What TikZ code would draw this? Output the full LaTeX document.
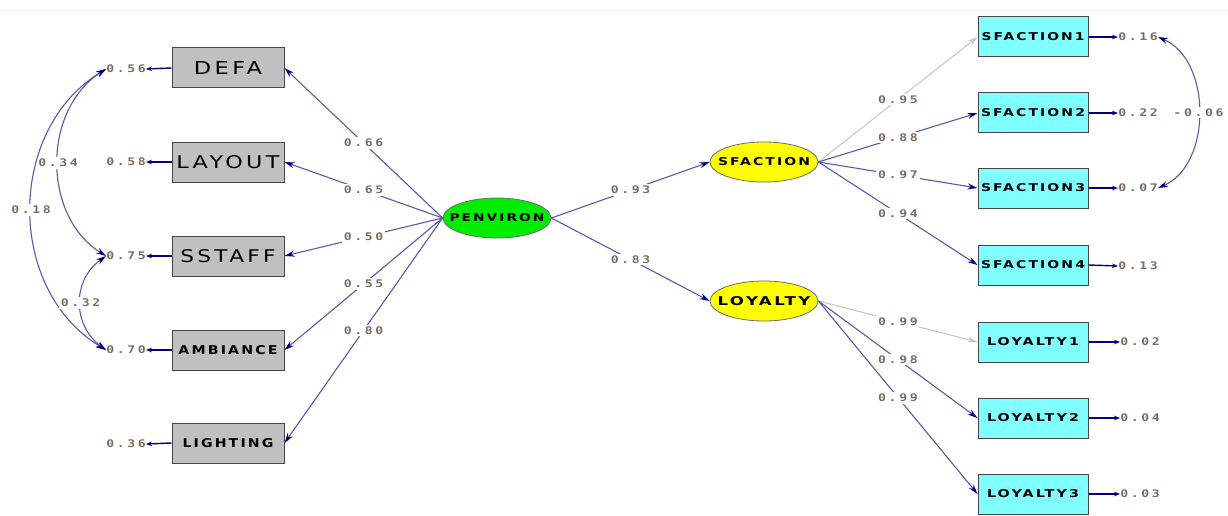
\documentclass[tikz,border=0pt]{standalone}
\usepackage{fontspec}
\usepackage{graphicx}
\usetikzlibrary{shapes.geometric,arrows.meta}
\newfontfamily\boxfont[LetterSpace=15]{DejaVu Sans}
\newfontfamily\numfont[LetterSpace=20]{DejaVu Sans Mono}
\newcommand\fitlbl[3]{\resizebox{#1}{#2}{#3}}
\newcommand\latlbl[3]{\makebox[0pt]{\resizebox{#1}{#2}{#3}}}
\newcommand\nm[1]{\scalebox{1.25}[1]{\fontsize{10.5}{11}\selectfont\numfont\bfseries #1}}
\definecolor{edgeblue}{RGB}{88,88,172}
\definecolor{navyc}{RGB}{0,0,128}
\definecolor{boxgray}{RGB}{192,192,192}
\definecolor{boxborder}{RGB}{70,70,70}
\definecolor{cyanbox}{RGB}{128,255,255}
\definecolor{greenlat}{RGB}{0,236,0}
\definecolor{yellat}{RGB}{255,255,0}
\definecolor{numcol}{RGB}{125,108,95}
\definecolor{lightedge}{RGB}{200,200,200}
\tikzset{
  lbox/.style={draw=boxborder, fill=boxgray, line width=1pt, minimum width=112pt, minimum height=40pt, inner sep=0pt},
  rbox/.style={draw=boxborder, fill=cyanbox, line width=1pt, minimum width=110pt, minimum height=40pt, inner sep=0pt},
  lat/.style={ellipse, draw=boxborder!80, line width=0.8pt, minimum width=108pt, minimum height=40pt, inner sep=0pt},
  pathedge/.style={draw=edgeblue, line width=1.1pt, -{Stealth[length=10pt,width=6pt,color=navyc]}},
  grayedge/.style={draw=lightedge, line width=1.1pt, -{Stealth[length=10pt,width=6pt,color=lightedge]}},
  corr/.style={draw=edgeblue, line width=1.1pt, {Stealth[length=10pt,width=6pt,color=navyc]}-{Stealth[length=10pt,width=6pt,color=navyc]}},
  errarrow/.style={draw=navyc, line width=1.4pt, -{Stealth[length=6pt,width=4.5pt]}},
  elbl/.style={fill=white, inner sep=2pt, text=numcol},
  numlbl/.style={inner sep=0pt, text=numcol},
}
\begin{document}
\begin{tikzpicture}[x=1pt,y=-1pt]
\useasboundingbox (0,0) rectangle (1228,516);
\draw[gray!12, line width=0.6pt] (0,10) -- (1228,10);

% left observed
\node[lbox] (defa) at (228,68) {\fitlbl{68pt}{13pt}{\boxfont DEFA}};
\node[lbox] (layout) at (228,162) {\fitlbl{103pt}{13pt}{\boxfont LAYOUT}};
\node[lbox] (sstaff) at (228,256) {\fitlbl{95pt}{13pt}{\boxfont SSTAFF}};
\node[lbox] (ambiance) at (228,350) {\fitlbl{99pt}{9pt}{\boxfont\bfseries AMBIANCE}};
\node[lbox] (lighting) at (228,443) {\fitlbl{91pt}{9pt}{\boxfont\bfseries LIGHTING}};

% latent
\node[lat, fill=greenlat] (pen) at (497,218) {\latlbl{95pt}{8pt}{\boxfont\bfseries PENVIRON}};
\node[lat, fill=yellat] (sfac) at (764,162) {\latlbl{92pt}{8pt}{\boxfont\bfseries SFACTION}};
\node[lat, fill=yellat] (loy) at (764,301) {\latlbl{93pt}{9pt}{\boxfont\bfseries LOYALTY}};

% right observed
\node[rbox] (s1) at (1033,37) {\fitlbl{103pt}{8pt}{\boxfont\bfseries SFACTION1}};
\node[rbox] (s2) at (1033,113) {\fitlbl{104pt}{8pt}{\boxfont\bfseries SFACTION2}};
\node[rbox] (s3) at (1033,188) {\fitlbl{104pt}{8pt}{\boxfont\bfseries SFACTION3}};
\node[rbox] (s4) at (1033,265) {\fitlbl{104pt}{8pt}{\boxfont\bfseries SFACTION4}};
\node[rbox] (l1) at (1033,342) {\fitlbl{92pt}{8pt}{\boxfont\bfseries LOYALTY1}};
\node[rbox] (l2) at (1033,418) {\fitlbl{92pt}{8pt}{\boxfont\bfseries LOYALTY2}};
\node[rbox] (l3) at (1033,494) {\fitlbl{92pt}{8pt}{\boxfont\bfseries LOYALTY3}};

% left error terms
\node[numlbl] (e1) at (126,69) {\nm{0.56}};
\node[numlbl] (e2) at (126,162) {\nm{0.58}};
\node[numlbl] (e3) at (126,256) {\nm{0.75}};
\node[numlbl] (e4) at (126,350) {\nm{0.70}};
\node[numlbl] (e5) at (126,444) {\nm{0.36}};
\draw[errarrow] (defa.west) -- (e1.east);
\draw[errarrow] (layout.west) -- (e2.east);
\draw[errarrow] (sstaff.west) -- (e3.east);
\draw[errarrow] (ambiance.west) -- (e4.east);
\draw[errarrow] (lighting.west) -- (e5.east);

% right error terms
\node[numlbl] (r1) at (1138,37) {\nm{0.16}};
\node[numlbl] (r2) at (1138,113) {\nm{0.22}};
\node[numlbl] (r3) at (1138,188) {\nm{0.07}};
\node[numlbl] (r4) at (1138,266) {\nm{0.13}};
\node[numlbl] (r5) at (1140,342) {\nm{0.02}};
\node[numlbl] (r6) at (1140,418) {\nm{0.04}};
\node[numlbl] (r7) at (1140,494) {\nm{0.03}};
\draw[errarrow] (s1.east) -- (r1.west);
\draw[errarrow] (s2.east) -- (r2.west);
\draw[errarrow] (s3.east) -- (r3.west);
\draw[errarrow] (s4.east) -- (r4.west);
\draw[errarrow] (l1.east) -- (r5.west);
\draw[errarrow] (l2.east) -- (r6.west);
\draw[errarrow] (l3.east) -- (r7.west);

% correlations left
\draw[corr] (e1.west) .. controls (42,110) and (42,216) .. node[elbl]{\nm{0.34}} (e3.west);
\draw[corr] (e1.west) .. controls (6,130) and (6,290) .. node[elbl]{\nm{0.18}} (e4.west);
\draw[corr] (e3.west) .. controls (72,280) and (72,325) .. node[elbl]{\nm{0.32}} (e4.west);
% correlation right
\draw[corr] (r1.east) .. controls (1212,60) and (1212,165) .. node[elbl]{\nm{-0.06}} (r3.east);

% PENVIRON loadings
\draw[pathedge] (pen.west) -- node[elbl]{\nm{0.66}} (defa.east);
\draw[pathedge] (pen.west) -- node[elbl]{\nm{0.65}} (layout.east);
\draw[pathedge] (pen.west) -- node[elbl]{\nm{0.50}} (sstaff.east);
\draw[pathedge] (pen.west) -- node[elbl]{\nm{0.55}} (ambiance.east);
\draw[pathedge] (pen.west) -- node[elbl]{\nm{0.80}} (lighting.east);

% structural paths
\draw[pathedge] (pen.east) -- node[elbl]{\nm{0.93}} (sfac.west);
\draw[pathedge] (pen.east) -- node[elbl]{\nm{0.83}} (loy.west);

% SFACTION loadings
\draw[grayedge] (sfac.east) -- node[elbl]{\nm{0.95}} (s1.west);
\draw[pathedge] (sfac.east) -- node[elbl]{\nm{0.88}} (s2.west);
\draw[pathedge] (sfac.east) -- node[elbl]{\nm{0.97}} (s3.west);
\draw[pathedge] (sfac.east) -- node[elbl]{\nm{0.94}} (s4.west);

% LOYALTY loadings
\draw[grayedge] (loy.east) -- node[elbl]{\nm{0.99}} (l1.west);
\draw[pathedge] (loy.east) -- node[elbl]{\nm{0.98}} (l2.west);
\draw[pathedge] (loy.east) -- node[elbl]{\nm{0.99}} (l3.west);
\end{tikzpicture}
\end{document}
